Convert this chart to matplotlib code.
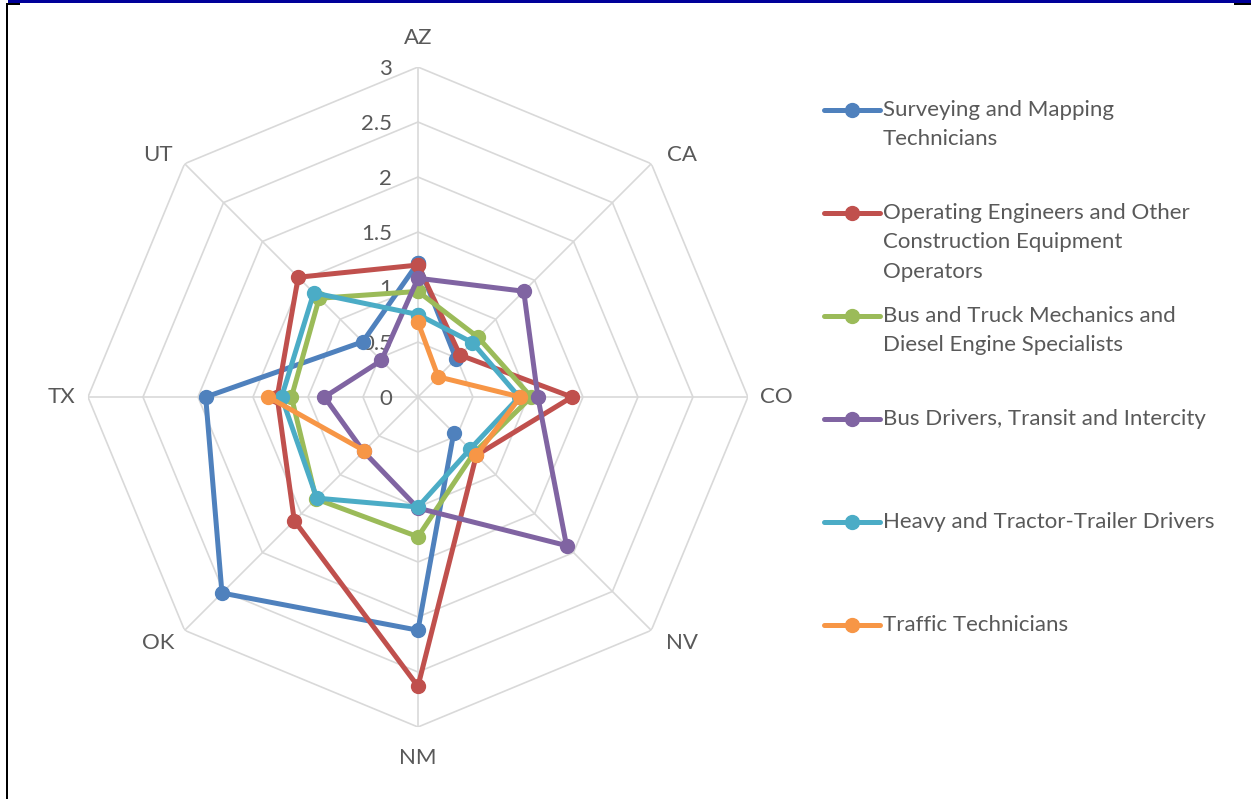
import numpy as np
import matplotlib
matplotlib.use("Agg")
import matplotlib.pyplot as plt
from matplotlib.lines import Line2D
from matplotlib.patches import Rectangle

plt.rcParams['font.family'] = ['Lato', 'DejaVu Sans']

# states around the radar, clockwise from the top
states = ["AZ", "CA", "CO", "NV", "NM", "OK", "TX", "UT"]

# values (nan = no value, line is broken there)
surveying = [1.22, 0.49, np.nan, 0.46, 2.12, 2.52, 1.93, 0.71]
operating = [1.20, 0.54, 1.40, 0.75, 2.63, 1.59, 1.28, 1.54]
mechanics = [0.96, 0.77, 1.03, 0.72, 1.27, 1.31, 1.15, 1.27]
bus_drivers = [1.08, 1.36, 1.09, 1.91, 1.01, 0.70, 0.85, 0.47]
heavy_truck = [0.75, 0.70, 0.92, 0.67, 1.00, 1.30, 1.24, 1.34]
traffic = [0.68, 0.26, 0.93, 0.75, np.nan, 0.69, 1.36, np.nan]

series_names = ["Surveying and Mapping\nTechnicians",
                "Operating Engineers and Other\nConstruction Equipment\nOperators",
                "Bus and Truck Mechanics and\nDiesel Engine Specialists",
                "Bus Drivers, Transit and Intercity",
                "Heavy and Tractor-Trailer Drivers",
                "Traffic Technicians"]
series = [surveying, operating, mechanics, bus_drivers, heavy_truck, traffic]
colors = ["#4F81BD", "#C0504D", "#9BBB59", "#8064A2", "#4BACC6", "#F79646"]

ticks = [0, 0.5, 1, 1.5, 2, 2.5, 3]

txt = "#595959"
grid_c = "#D9D9D9"
fs = 16

fig = plt.figure(figsize=(12.51, 7.99), dpi=100)
ax = fig.add_axes([0.0703, 0.0901, 0.5276, 0.826], projection="polar")
ax.set_theta_zero_location("N")
ax.set_theta_direction(-1)
ax.set_ylim(0, 3)
ax.grid(False)
ax.spines["polar"].set_visible(False)
ax.set_xticks([])
ax.set_yticks([])
ax.patch.set_alpha(0)

angles = np.linspace(0, 2 * np.pi, len(states), endpoint=False)
closed = np.append(angles, angles[0])

# octagon grid and spokes
for r in ticks[1:]:
    ax.plot(closed, [r] * len(closed), color=grid_c, lw=1.2, zorder=1)
for a in angles:
    ax.plot([a, a], [0, 3], color=grid_c, lw=1.2, zorder=1)

# tick labels along the AZ spoke
for t in ticks:
    ax.annotate(f"{t:g}", xy=(0, t), xytext=(-26, -2), textcoords="offset pixels",
                ha="right", va="center", fontsize=fs, color=txt,
                annotation_clip=False)

# state labels
offs = {"AZ": (0, 0), "CA": (10, -12), "CO": (0, 0), "NV": (10, 8),
        "NM": (0, -2), "OK": (-6, 8), "TX": (2, 0), "UT": (-6, -12)}
for a, s in zip(angles, states):
    ax.annotate(s, xy=(a, 3.26), xytext=offs[s], textcoords="offset pixels",
                ha="center", va="center", fontsize=fs, color=txt,
                annotation_clip=False)

for vals, c in zip(series, colors):
    v = np.append(vals, vals[0])
    ax.plot(closed, v, color=c, lw=3.6, marker="o", ms=10, zorder=3,
            solid_capstyle="round", solid_joinstyle="round")

# legend, drawn by hand so the marker sits on the first text line
W, H = 1251, 799
for i, (name, c) in enumerate(zip(series_names, colors)):
    y = 1 - (110 + 103 * i) / H
    fig.add_artist(Line2D([824 / W, 880 / W], [y, y], color=c, lw=3.6,
                          solid_capstyle="round", transform=fig.transFigure))
    fig.add_artist(Line2D([852 / W], [y], color=c, marker="o", ms=10,
                          transform=fig.transFigure))
    fig.text(883 / W, y + 10 / H, name, ha="left", va="top", fontsize=fs,
             color=txt, linespacing=1.58)

# frame bits at the edges of the crop
fig.add_artist(Rectangle((8 / W, 1 - 3 / H), 1 - 8 / W, 3 / H, color="#000099",
                         transform=fig.transFigure, lw=0))
fig.add_artist(Rectangle((8 / W, 1 - 5 / H), 12 / W, 2 / H, color="black",
                         transform=fig.transFigure, lw=0))
fig.add_artist(Rectangle((1234 / W, 1 - 5 / H), 17 / W, 2 / H, color="black",
                         transform=fig.transFigure, lw=0))
fig.add_artist(Rectangle((6 / W, 0), 2 / W, 1 - 3 / H, color="black",
                         transform=fig.transFigure, lw=0))

fig.savefig("out.png", dpi=100)
